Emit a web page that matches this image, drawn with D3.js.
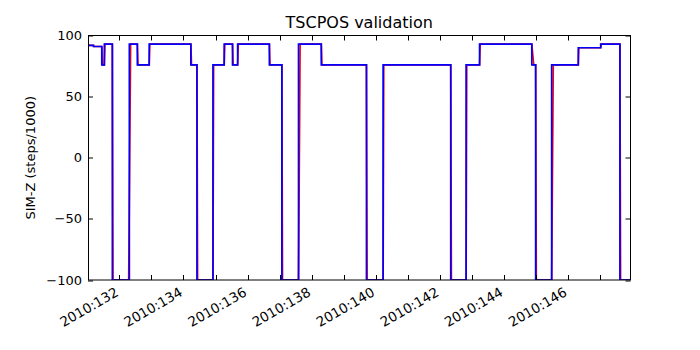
<!DOCTYPE html>
<html>
<head>
<meta charset="utf-8">
<script src="https://cdn.jsdelivr.net/npm/d3@7"></script>
<style>
  body { margin: 0; background: #fff; }
  svg { font-family: "DejaVu Sans", sans-serif; }
</style>
</head>
<body>
<div id="chart"></div>
<script>
// telemetry (blue), step changes: value holds until next time
const telemTimes = [131.02, 131.19, 131.45, 131.53, 131.78, 132.31, 132.56, 132.93, 134.23, 134.42,
    134.92, 135.27, 135.53, 135.69, 136.68, 137.07, 137.59, 138.30, 139.71, 140.23,
    142.34, 142.82, 143.24, 144.87, 144.99, 145.49, 146.32, 147.02, 147.62, 147.95];
const telemValues = [92, 91, 76, 93, -100, 93, 76, 93, 76, -100,
    76, 93, 76, 93, 76, -100, 93, 76, -100, 76,
    -100, 76, 93, 76, -100, 76, 90, 93, -100, -100];

// model (red), drawn as straight segments between points
const modelTimes = [131.02, 131.19, 131.21, 131.45, 131.47, 131.53, 131.55, 131.78, 131.80, 132.29,
    132.35, 132.56, 132.58, 132.93, 132.95, 134.23, 134.25, 134.42, 134.44, 134.92,
    134.94, 135.27, 135.29, 135.53, 135.55, 135.69, 135.71, 136.68, 136.70, 137.07,
    137.09, 137.59, 137.64, 138.30, 138.32, 139.71, 139.73, 140.23, 140.25, 142.34,
    142.36, 142.82, 142.84, 143.24, 143.26, 144.87, 144.93, 144.99, 145.01, 145.49,
    145.54, 146.32, 146.34, 147.02, 147.04, 147.62, 147.64, 147.95];
const modelValues = [92, 92, 91, 91, 76, 76, 93, 93, -100, -100,
    93, 93, 76, 76, 93, 93, 76, 76, -100, -100,
    76, 76, 93, 93, 76, 76, 93, 93, 76, 76,
    -100, -100, 93, 93, 76, 76, -100, -100, 76, 76,
    -100, -100, 76, 76, 93, 93, 76, 76, -100, -100,
    76, 76, 90, 90, 93, 93, -100, -100];

const dayTicks = d3.range(132, 148);
const yTicks = [-100, -50, 0, 50, 100];

const margin = {top: 35.5, right: 69.5, bottom: 70, left: 88};
const size = {width: 700, height: 350};
const width = size.width - margin.left - margin.right;
const height = size.height - margin.top - margin.bottom;

const svg = d3.select("#chart").append("svg")
    .attr("width", size.width)
    .attr("height", size.height)
;

const xScale = d3.scaleLinear().domain(d3.extent(telemTimes)).range([0, width]);
const yScale = d3.scaleLinear().domain([-100, 100]).range([height, 0]);

const g = svg.append("g")
    .attr("transform", "translate(" + margin.left + "," + margin.top + ")")
;

g.append("clipPath").attr("id", "plotClip")
    .append("rect")
    .attr("width", width)
    .attr("height", height)
;

// lines, model first so telemetry sits on top
const modelData = modelTimes.map((t, i) => ({t: t, v: modelValues[i]}));
const telemData = telemTimes.map((t, i) => ({t: t, v: telemValues[i]}));

g.append("path")
    .datum(modelData)
    .attr("clip-path", "url(#plotClip)")
    .attr("fill", "none")
    .attr("stroke", "#ff0000")
    .attr("stroke-width", 1.7)
    .attr("d", d3.line().x(d => xScale(d.t)).y(d => yScale(d.v)))
;
g.append("path")
    .datum(telemData)
    .attr("clip-path", "url(#plotClip)")
    .attr("fill", "none")
    .attr("stroke", "#0000ff")
    .attr("stroke-width", 1.7)
    .attr("d", d3.line().curve(d3.curveStepAfter).x(d => xScale(d.t)).y(d => yScale(d.v)))
;

// inward ticks on all four sides
const tickLen = 5;
const xAxisG = g.append("g").attr("class", "xAxisG");
dayTicks.forEach(d => {
    const x = Math.round(xScale(d)) + 0.5;
    xAxisG.append("line").attr("x1", x).attr("x2", x).attr("y1", height).attr("y2", height - tickLen).attr("stroke", "#000");
    xAxisG.append("line").attr("x1", x).attr("x2", x).attr("y1", 0).attr("y2", tickLen).attr("stroke", "#000");
    if (d % 2 === 0) {
        xAxisG.append("text")
            .attr("transform", "translate(" + (xScale(d)) + "," + (height + 15) + ") rotate(-30)")
            .attr("text-anchor", "end")
            .attr("font-size", 13.5)
            .attr("fill", "#000")
            .text("2010:" + d)
        ;
    }
});

const yAxisG = g.append("g").attr("class", "yAxisG");
yTicks.forEach(v => {
    const y = Math.round(yScale(v)) + 0.5;
    yAxisG.append("line").attr("x1", 0).attr("x2", tickLen).attr("y1", y).attr("y2", y).attr("stroke", "#000");
    yAxisG.append("line").attr("x1", width).attr("x2", width - tickLen).attr("y1", y).attr("y2", y).attr("stroke", "#000");
    yAxisG.append("text")
        .attr("x", -6)
        .attr("y", yScale(v))
        .attr("dy", "0.35em")
        .attr("text-anchor", "end")
        .attr("font-size", 13)
        .attr("fill", "#000")
        .text(d3.format("")(v).replace("-", "\u2212"))
    ;
});

// frame
g.append("rect")
    .attr("x", 0.5)
    .attr("y", 0)
    .attr("width", width - 0.5)
    .attr("height", height)
    .attr("fill", "none")
    .attr("stroke", "#000")
    .attr("stroke-width", 1)
;

svg.append("text")
    .attr("x", margin.left + width / 2)
    .attr("y", 28)
    .attr("text-anchor", "middle")
    .attr("font-size", 16)
    .text("TSCPOS validation")
;

svg.append("text")
    .attr("transform", "translate(35," + (margin.top + height / 2) + ") rotate(-90)")
    .attr("text-anchor", "middle")
    .attr("font-size", 13)
    .text("SIM-Z (steps/1000)")
;
</script>
</body>
</html>
